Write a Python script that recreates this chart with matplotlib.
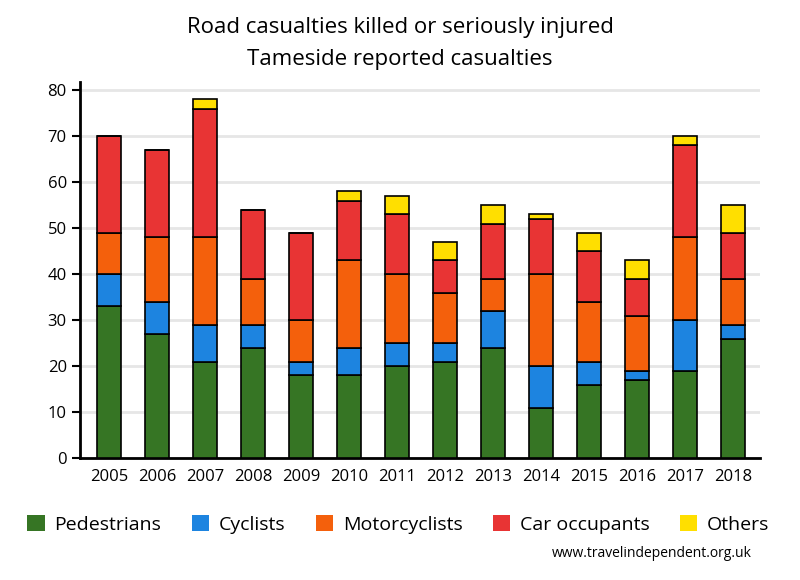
import matplotlib
matplotlib.use('Agg')
import matplotlib.pyplot as plt
import numpy as np

years = ['2005', '2006', '2007', '2008', '2009', '2010', '2011',
         '2012', '2013', '2014', '2015', '2016', '2017', '2018']
pedestrians = [33, 27, 21, 24, 18, 18, 20, 21, 24, 11, 16, 17, 19, 26]
cyclists = [7, 7, 8, 5, 3, 6, 5, 4, 8, 9, 5, 2, 11, 3]
motorcyclists = [9, 14, 19, 10, 9, 19, 15, 11, 7, 20, 13, 12, 18, 10]
car_occupants = [21, 19, 28, 15, 19, 13, 13, 7, 12, 12, 11, 8, 20, 10]
others = [0, 0, 2, 0, 0, 2, 4, 4, 4, 1, 4, 4, 2, 6]

series = [('Pedestrians', pedestrians, '#367524'),
          ('Cyclists', cyclists, '#1d84e0'),
          ('Motorcyclists', motorcyclists, '#f4600c'),
          ('Car occupants', car_occupants, '#e83434'),
          ('Others', others, '#ffdf00')]

plt.rcParams['font.family'] = ['Open Sans', 'DejaVu Sans']

fig = plt.figure(figsize=(8, 5.8), dpi=100)
ax = fig.add_axes([0.1, 0.21, 0.85, 0.648])

x = np.arange(len(years))
bottom = np.zeros(len(years))
for name, vals, col in series:
    vals = np.array(vals, dtype=float)
    ax.bar(x, vals, 0.5, bottom=bottom, color=col, edgecolor='black',
           linewidth=1.2, label=name, zorder=3)
    bottom += vals

ax.set_xlim(-0.6, 13.56)
ax.set_ylim(0, 81.7)
ax.set_yticks(range(0, 81, 10))
ax.set_xticks(x)
ax.set_xticklabels(years)
ax.yaxis.grid(True, color='#e6e6e6', linewidth=2, zorder=0)
ax.set_axisbelow(True)
for s in ['top', 'right']:
    ax.spines[s].set_visible(False)
ax.spines['left'].set_linewidth(2)
ax.spines['bottom'].set_linewidth(2)
ax.tick_params(axis='y', length=6, width=1.5, labelsize=12)
ax.tick_params(axis='x', length=0, labelsize=12, pad=8)

fig.text(0.5, 0.952, 'Road casualties killed or seriously injured', ha='center', va='center', fontsize=16)
fig.text(0.5, 0.897, 'Tameside reported casualties', ha='center', va='center', fontsize=16)

fig.legend(loc='center', bbox_to_anchor=(0.498, 0.096), ncol=5, frameon=False,
           fontsize=14, handlelength=0.9, handleheight=0.9, columnspacing=1.55,
           handletextpad=0.5)
for h in fig.legends[0].legend_handles:
    h.set_edgecolor('none')

fig.text(0.94, 0.045, 'www.travelindependent.org.uk', ha='right', va='center', fontsize=10)

fig.savefig('out.png', dpi=100)
